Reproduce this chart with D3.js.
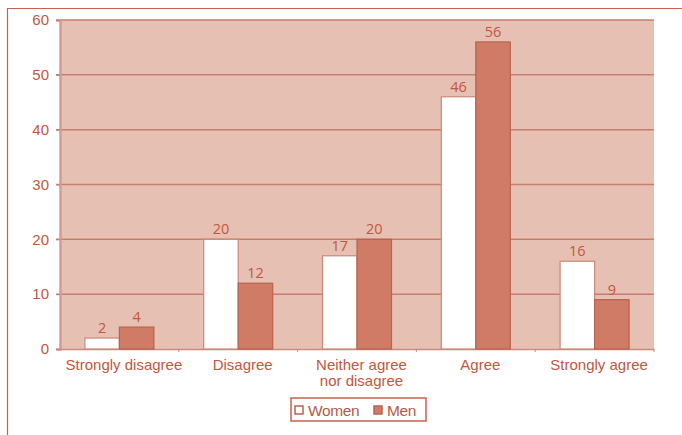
<!DOCTYPE html>
<html>
<head>
<meta charset="utf-8">
<script src="https://cdn.jsdelivr.net/npm/d3@7/dist/d3.min.js"></script>
<style>
  html, body { margin: 0; padding: 0; background: #fff; }
  svg { display: block; font-family: "Open Sans", "Noto Sans", sans-serif; }
</style>
</head>
<body>
<svg id="chart" width="682" height="435"></svg>
<script>
// Survey responses by gender (percent)
const categories = ["Strongly disagree", "Disagree", "Neither agree|nor disagree", "Agree", "Strongly agree"];
const series = ["Women", "Men"];
const women = [2, 20, 17, 46, 16];
const men = [4, 12, 20, 56, 9];
const yTicks = [0, 10, 20, 30, 40, 50, 60];

const textColor = "#c4563e";
const plotBg = "#e6c0b3";
const gridColor = "#c67f6f";
const menFill = "#cf7b66";
const menStroke = "#b9634f";
const womenFill = "#ffffff";
const womenStroke = "#cc8878";

const svg = d3.select("#chart");
const W = 682, H = 435;
const m = { left: 60, right: 28, top: 20, bottom: 86 };

// Outer frame (left and top edges)
svg.append("path")
  .attr("d", `M7.5,${H} V8.5 H${W}`)
  .attr("fill", "none")
  .attr("stroke", "#c9614e")
  .attr("stroke-width", 1.2);

const x0 = d3.scaleBand().domain(categories).range([m.left, W - m.right]);
const x1 = d3.scaleBand().domain(series).range([0, 69]);
const y = d3.scaleLinear().domain([0, 60]).range([H - m.bottom, m.top]);

// Plot area
svg.append("rect")
  .attr("x", m.left).attr("y", y(60))
  .attr("width", x0.range()[1] - m.left).attr("height", y(0) - y(60))
  .attr("fill", plotBg);

// Gridlines
svg.append("g").selectAll("line").data(yTicks.filter(d => d > 0)).join("line")
  .attr("x1", m.left - 4).attr("x2", x0.range()[1])
  .attr("y1", d => y(d)).attr("y2", d => y(d))
  .attr("stroke", gridColor).attr("stroke-width", 1.5);

// Y axis
const yAxis = svg.append("g").attr("transform", `translate(${m.left},0)`)
  .call(d3.axisLeft(y).tickValues(yTicks).tickSize(4).tickPadding(7));
yAxis.select(".domain").attr("stroke", "#d39c8e").attr("stroke-width", 2.5);
yAxis.selectAll(".tick line").attr("stroke", gridColor);
yAxis.selectAll("text").attr("fill", textColor).attr("font-size", 15);

// X axis
const xAxis = svg.append("g").attr("transform", `translate(0,${y(0)})`)
  .call(d3.axisBottom(x0).tickSize(0).tickPadding(10));
xAxis.select(".domain").attr("stroke", "#c98a7c").attr("stroke-width", 1.5);
xAxis.selectAll("text").attr("fill", textColor).attr("font-size", 15)
  .each(function(d) {
    const parts = d.split("|");
    const t = d3.select(this).text(null);
    parts.forEach((p, i) => t.append("tspan").attr("x", 4.5).attr("dy", i === 0 ? "0.71em" : "1.07em").text(p));
  });
// Category boundary ticks
svg.append("g").selectAll("line").data(categories.slice(1).concat([null])).join("line")
  .attr("x1", (d, i) => m.left + x0.step() * (i + 1))
  .attr("x2", (d, i) => m.left + x0.step() * (i + 1))
  .attr("y1", y(0)).attr("y2", y(0) + 3)
  .attr("stroke", "#c98a7c").attr("stroke-width", 1);

// Bars
const rows = categories.map((c, i) => ({ c, vals: [
  { s: "Women", v: women[i] }, { s: "Men", v: men[i] }] }));
const groups = svg.append("g").selectAll("g").data(rows).join("g")
  .attr("transform", d => `translate(${x0(d.c) + (x0.bandwidth() - 69) / 2},0)`);
groups.selectAll("rect").data(d => d.vals).join("rect")
  .attr("x", d => x1(d.s)).attr("y", d => y(d.v))
  .attr("width", x1.bandwidth()).attr("height", d => y(0) - y(d.v))
  .attr("fill", d => d.s === "Women" ? womenFill : menFill)
  .attr("stroke", d => d.s === "Women" ? womenStroke : menStroke)
  .attr("stroke-width", 1.2);
groups.selectAll("text").data(d => d.vals).join("text")
  .attr("x", d => x1(d.s) + x1.bandwidth() / 2).attr("y", d => y(d.v) - 5)
  .attr("text-anchor", "middle").attr("fill", textColor).attr("font-size", 14.5)
  .text(d => d.v);

// Legend
const lg = svg.append("g").attr("transform", "translate(291,398)");
lg.append("rect").attr("x", 0).attr("y", 0).attr("width", 135).attr("height", 23)
  .attr("fill", "#fff").attr("stroke", "#c9614e").attr("stroke-width", 1.5);
const items = [{ s: "Women", fill: womenFill, x: 4 }, { s: "Men", fill: menFill, x: 83 }];
items.forEach(it => {
  lg.append("rect").attr("x", it.x).attr("y", 8).attr("width", 8).attr("height", 8)
    .attr("fill", it.fill).attr("stroke", "#b9634f").attr("stroke-width", 1.5);
  lg.append("text").attr("x", it.x + 13).attr("y", 17.5).attr("fill", "#b5594a")
    .attr("font-size", 15.5).attr("font-family", "Liberation Sans, Arial, sans-serif")
    .attr("letter-spacing", -0.4).text(it.s);
});
</script>
</body>
</html>
